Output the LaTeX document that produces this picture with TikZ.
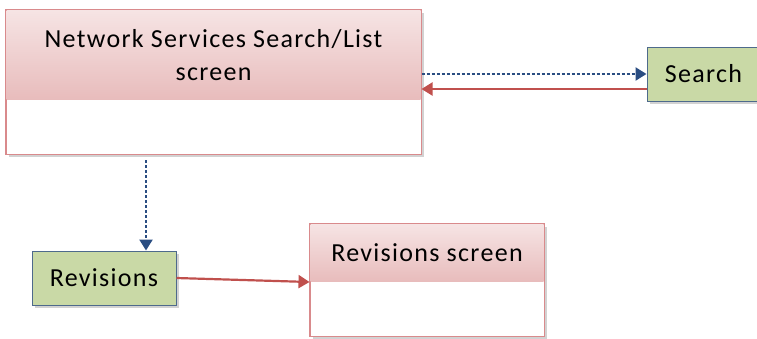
\documentclass[tikz,border=0pt]{standalone}
\usepackage{fontspec}
\setmainfont{Carlito}[LetterSpace=5]
\usepackage{xcolor}
\usetikzlibrary{arrows.meta,positioning,shadows,calc}
\definecolor{cedge}{HTML}{D98A8C}
\definecolor{chtop}{HTML}{F6E4E4}
\definecolor{chbot}{HTML}{E8BCBC}
\definecolor{cgreen}{HTML}{C9D9A6}
\definecolor{cgedge}{HTML}{4E6A8C}
\definecolor{cflow}{HTML}{2A4D82}
\definecolor{cback}{HTML}{C0504D}
\tikzset{
  screenbox/.style={draw=cedge, fill=white, line width=1pt, inner sep=0pt,
    drop shadow={shadow xshift=3pt, shadow yshift=-3pt, fill=black!35}},
  screenhead/.style={top color=chtop, bottom color=chbot, inner sep=0pt, anchor=north},
  actbox/.style={draw=cgedge, fill=cgreen, line width=1pt, inner sep=0pt,
    font=\fontsize{26}{30}\selectfont,
    drop shadow={shadow xshift=3pt, shadow yshift=-3pt, fill=black!35}},
  lbl/.style={font=\fontsize{26}{33}\selectfont, align=center},
  flow/.style={-{Triangle[length=11pt,width=13pt]}, draw=cflow, line width=2.4pt, dash pattern=on 3pt off 2pt},
  back/.style={-{Triangle[length=11pt,width=13pt]}, draw=cback, line width=2.2pt},
}
\begin{document}
\begin{tikzpicture}[x=1pt,y=-1pt]
\useasboundingbox (0,0) rectangle (757,338);
% screens
\node[screenbox, minimum width=415pt, minimum height=144pt] (nsl) at (213.5,82) {};
\node[screenhead, minimum width=414pt, minimum height=89pt] (nslhead) at ([yshift=-0.5pt]nsl.north) {};
\node[screenbox, minimum width=234pt, minimum height=112pt] (revscr) at (427,280) {};
\node[screenhead, minimum width=233pt, minimum height=57pt] (revhead) at ([yshift=-0.5pt]revscr.north) {};
\draw[cedge, line width=1pt] (nsl.north west) rectangle (nsl.south east);
\draw[cedge, line width=1pt] (revscr.north west) rectangle (revscr.south east);
\node[lbl] at (nslhead.center) {Network Services Search/List\\screen};
\node[lbl] at (revhead.center) {Revisions screen};
% actions
\node[actbox, minimum width=113pt, minimum height=54pt] (search) at (703.5,74) {Search};
\node[actbox, minimum width=144pt, minimum height=54pt] (rev) at (104,278) {Revisions};
% connectors
\draw[flow] ([yshift=8pt]nsl.east) -- (search.west);
\draw[back] ([yshift=-15pt]search.west) -- ([yshift=-7pt]nsl.east);
\coordinate (drop) at (146,160);
\draw[flow] (drop) -- (drop |- rev.north);
\draw[back] (rev.east) -- ([yshift=-2pt]revscr.west);
\end{tikzpicture}
\end{document}
